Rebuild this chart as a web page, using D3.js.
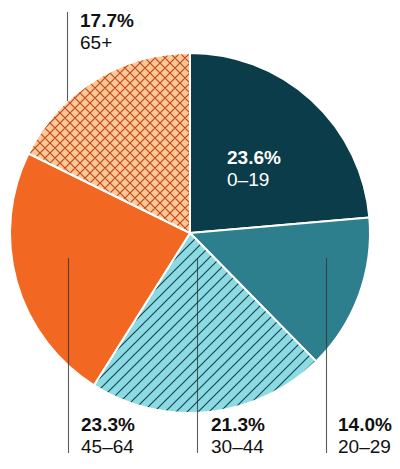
<!DOCTYPE html>
<html><head><meta charset="utf-8">
<script src="https://cdn.jsdelivr.net/npm/d3@7"></script>
<style>
body{margin:0;background:#fff;}
text{font-family:"Liberation Sans",Arial,Helvetica,sans-serif;font-size:19px;}
</style></head>
<body>
<svg id="chart" width="400" height="469"></svg>
<script>
const categories = ["0–19", "20–29", "30–44", "45–64", "65+"];
const values = [23.6, 14.0, 21.3, 23.3, 17.7];
const valueLabels = ["23.6%", "14.0%", "21.3%", "23.3%", "17.7%"];

const fills = ["#0b3c49", "#2e7f8e", "url(#hatch)", "#f26722", "url(#cross)"];
const layout = [
  {inside:true, tx:227, ty:164, color:"#fff"},
  {lx:326.5, y1:258, y2:453, tx:338, ty:431, color:"#111"},
  {lx:197.5, y1:258, y2:453, tx:211, ty:431, color:"#111"},
  {lx:68.5, y1:258, y2:453, tx:81, ty:431, color:"#111"},
  {lx:67.5, y1:12, y2:"edge", tx:80, ty:27, color:"#111"}
];

const cx = 190, cy = 233, R = 180;
const svg = d3.select("#chart");
const defs = svg.append("defs");

const hp = defs.append("pattern").attr("id","hatch").attr("patternUnits","userSpaceOnUse")
  .attr("width",11).attr("height",11);
hp.append("rect").attr("width",11).attr("height",11).attr("fill","#8cdbe4");
hp.append("path").attr("d","M-1,12 L12,-1 M-6,6 L6,-6 M5,17 L17,5")
  .attr("stroke","#1b4650").attr("stroke-width",1.2);

const cp = defs.append("pattern").attr("id","cross").attr("patternUnits","userSpaceOnUse")
  .attr("width",10).attr("height",10);
cp.append("rect").attr("width",10).attr("height",10).attr("fill","#fec996");
cp.append("path").attr("d","M-1,11 L11,-1 M-6,6 L6,-6 M4,16 L16,4 M-1,-1 L11,11 M-6,4 L6,16 M4,-6 L16,6")
  .attr("stroke","#c0461a").attr("stroke-width",1.2);

const pie = d3.pie().sort(null).value(d => d);
const arcs = pie(values);
const arc = d3.arc().innerRadius(0).outerRadius(R);

const g = svg.append("g").attr("transform", `translate(${cx},${cy})`);
g.selectAll("path.slice").data(arcs).join("path")
  .attr("class","slice")
  .attr("d", arc)
  .attr("fill", (d,i) => fills[i])
  .attr("stroke","#fff").attr("stroke-width",2).attr("stroke-linejoin","round");

arcs.forEach((d,i) => {
  const L = layout[i];
  if (!L.inside) {
    let y2 = L.y2;
    if (y2 === "edge") {
      const dx = L.lx - cx;
      y2 = cy - Math.sqrt(R*R - dx*dx);
    }
    svg.append("line").attr("x1",L.lx).attr("x2",L.lx).attr("y1",L.y1).attr("y2",y2)
      .attr("stroke","#333").attr("stroke-opacity",0.8).attr("stroke-width",1.1);
  }
  const t = svg.append("text").attr("x",L.tx).attr("y",L.ty).attr("fill",L.color);
  t.append("tspan").attr("x",L.tx).attr("font-weight","bold").text(valueLabels[i]);
  t.append("tspan").attr("x",L.tx).attr("dy",22).text(categories[i]);
});
</script>
</body></html>
